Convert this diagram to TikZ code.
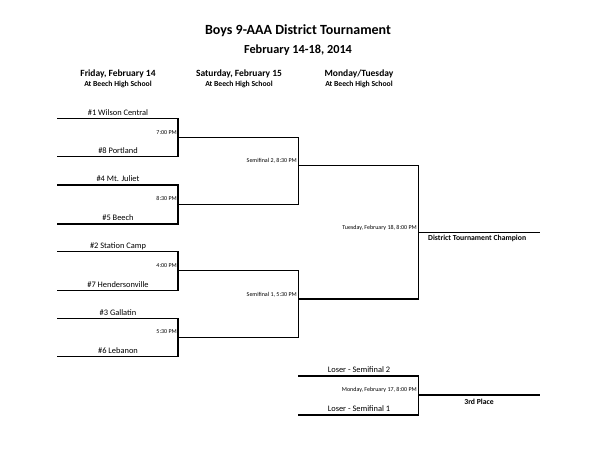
\documentclass[tikz,border=0pt]{standalone}
\usepackage{fontspec}
\setmainfont{Carlito}
\begin{document}
\begin{tikzpicture}[x=1pt,y=-1pt,
  bline/.style={line width=1.3pt, line cap=rect},
  team/.style={anchor=base, inner sep=0pt, font=\fontsize{8.4}{10}\selectfont},
  timelbl/.style={anchor=base east, inner sep=0pt, font=\fontsize{6}{7}\selectfont},
  hdr/.style={anchor=base, inner sep=0pt, font=\bfseries\fontsize{9.5}{11}\selectfont},
  subhdr/.style={anchor=base, inner sep=0pt, font=\bfseries\fontsize{7.7}{9}\selectfont},
  result/.style={anchor=base, inner sep=0pt, font=\bfseries\fontsize{7.7}{9}\selectfont}]
\useasboundingbox[fill=white] (0,0) rectangle (599,462);
% titles
\node[anchor=base, inner sep=0pt, font=\bfseries\fontsize{14}{16}\selectfont] (title) at (298,34.5) {Boys 9-AAA District Tournament};
\node[anchor=base, inner sep=0pt, font=\bfseries\fontsize{12.3}{14}\selectfont] (subtitle) at (298,54) {February 14-18, 2014};
\node[hdr] (h1) at (118,77) {Friday, February 14};
\node[subhdr] (s1) at (118,86.5) {At Beech High School};
\node[hdr] (h2) at (239,77) {Saturday, February 15};
\node[subhdr] (s2) at (239,86.5) {At Beech High School};
\node[hdr] (h3) at (359,77) {Monday/Tuesday};
\node[subhdr] (s3) at (359,86.5) {At Beech High School};
% coordinates
\def\xa{57.3}\def\xb{178}\def\xc{298.3}\def\xd{418.3}\def\xe{539.3}
\coordinate (t1a) at (\xa,118.3); \coordinate (t1b) at (\xb,118.3);
\coordinate (t8a) at (\xa,156.7); \coordinate (t8b) at (\xb,156.7);
\coordinate (t4a) at (\xa,185);   \coordinate (t4b) at (\xb,185);
\coordinate (t5a) at (\xa,224);   \coordinate (t5b) at (\xb,224);
\coordinate (t2a) at (\xa,251.7); \coordinate (t2b) at (\xb,251.7);
\coordinate (t7a) at (\xa,290.7); \coordinate (t7b) at (\xb,290.7);
\coordinate (t3a) at (\xa,318.3); \coordinate (t3b) at (\xb,318.3);
\coordinate (t6a) at (\xa,356.7); \coordinate (t6b) at (\xb,356.7);
\coordinate (q1a) at (\xb,137.7); \coordinate (q1b) at (\xc,137.7);
\coordinate (q2a) at (\xb,204.3); \coordinate (q2b) at (\xc,204.3);
\coordinate (q3a) at (\xb,270.7); \coordinate (q3b) at (\xc,270.7);
\coordinate (q4a) at (\xb,337.3); \coordinate (q4b) at (\xc,337.3);
\coordinate (sf2a) at (\xc,165.7); \coordinate (sf2b) at (\xd,165.7);
\coordinate (sf1a) at (\xc,299);   \coordinate (sf1b) at (\xd,299);
\coordinate (cha) at (\xd,232.3);  \coordinate (chb) at (\xe,232.3);
\coordinate (l2a) at (\xc,376);    \coordinate (l2b) at (\xd,376);
\coordinate (l1a) at (\xc,415);    \coordinate (l1b) at (\xd,415);
\coordinate (tpa) at (\xd,395);    \coordinate (tpb) at (\xe,395);
% bracket lines
\draw[bline] (t1a) -- (t1b) -- (t8b) -- (t8a);
\draw[bline] (t4a) -- (t4b) -- (t5b) -- (t5a);
\draw[bline] (t2a) -- (t2b) -- (t7b) -- (t7a);
\draw[bline] (t3a) -- (t3b) -- (t6b) -- (t6a);
\draw[bline] (q1a) -- (q1b) -- (q2b) -- (q2a);
\draw[bline] (q3a) -- (q3b) -- (q4b) -- (q4a);
\draw[bline] (sf2a) -- (sf2b) -- (sf1b) -- (sf1a);
\draw[bline] (cha) -- (chb);
\draw[bline] (l2a) -- (l2b) -- (l1b) -- (l1a);
\draw[bline] (tpa) -- (tpb);
% team names
\node[team] (n1) at (118,115.3) {\#1 Wilson Central};
\node[team] (n8) at (118,153.7) {\#8 Portland};
\node[team] (n4) at (118,182) {\#4 Mt. Juliet};
\node[team] (n5) at (118,221) {\#5 Beech};
\node[team] (n2) at (118,248.7) {\#2 Station Camp};
\node[team] (n7) at (118,287.7) {\#7 Hendersonville};
\node[team] (n3) at (118,315.3) {\#3 Gallatin};
\node[team] (n6) at (118,353.7) {\#6 Lebanon};
% time labels
\node[timelbl] (g1) at (177,134.3) {7:00 PM};
\node[timelbl] (g2) at (177,200.9) {8:30 PM};
\node[timelbl] (g3) at (177,267.3) {4:00 PM};
\node[timelbl] (g4) at (177,333.9) {5:30 PM};
\node[timelbl] (g5) at (297,163) {Semifinal 2, 8:30 PM};
\node[timelbl] (g6) at (297,296.3) {Semifinal 1, 5:30 PM};
\node[timelbl] (g7) at (417,229.3) {Tuesday, February 18, 8:00 PM};
\node[timelbl] (g8) at (417,391.5) {Monday, February 17, 8:00 PM};
% results
\node[result, anchor=base west] (champ) at (428,240.8) {District Tournament Champion};
\node[result] (third) at (479,404.3) {3rd Place};
\node[team] (ls2) at (359,372.5) {Loser - Semifinal 2};
\node[team] (ls1) at (359,411.5) {Loser - Semifinal 1};
\end{tikzpicture}
\end{document}
